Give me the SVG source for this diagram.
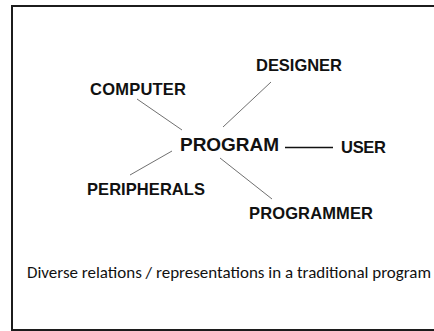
<svg xmlns="http://www.w3.org/2000/svg" width="434" height="331" viewBox="0 0 434 331">
  <style>
    .label { font-family: "Liberation Sans", Arial, sans-serif; font-weight: bold; fill: #111; }
    .link { stroke: #707070; stroke-width: 1; fill: none; }
    .link-strong { stroke: #111; stroke-width: 1.3; fill: none; }
    .caption { font-family: Carlito, Calibri, Lato, "Open Sans", sans-serif; font-size: 16px; fill: #111; }
  </style>
  <rect width="434" height="331" fill="#ffffff"/>
  <!-- slide frame, running off the right edge -->
  <rect x="12" y="6" width="440" height="324" fill="none" stroke="#1c1c1c" stroke-width="2"/>

  <g id="connectors">
    <line class="link" x1="137" y1="99" x2="182" y2="130"/>
    <line class="link" x1="271" y1="82" x2="223" y2="127"/>
    <line class="link-strong" x1="285" y1="147.5" x2="333" y2="147.5"/>
    <line class="link" x1="172" y1="151" x2="130" y2="175"/>
    <line class="link" x1="220" y1="158" x2="272" y2="199"/>
  </g>

  <g id="program"><text class="label" x="180" y="151" font-size="19" textLength="99">PROGRAM</text></g>
  <g id="designer"><text class="label" x="256" y="71" font-size="16.5" textLength="86">DESIGNER</text></g>
  <g id="computer"><text class="label" x="90" y="95" font-size="16.5" textLength="96">COMPUTER</text></g>
  <g id="user"><text class="label" x="341" y="153" font-size="16.5" textLength="45">USER</text></g>
  <g id="peripherals"><text class="label" x="87" y="195" font-size="16.5" textLength="118">PERIPHERALS</text></g>
  <g id="programmer"><text class="label" x="249" y="219" font-size="16.5" textLength="124">PROGRAMMER</text></g>

  <text class="caption" x="27" y="278" textLength="404" lengthAdjust="spacingAndGlyphs">Diverse relations / representations in a traditional program</text>
</svg>
